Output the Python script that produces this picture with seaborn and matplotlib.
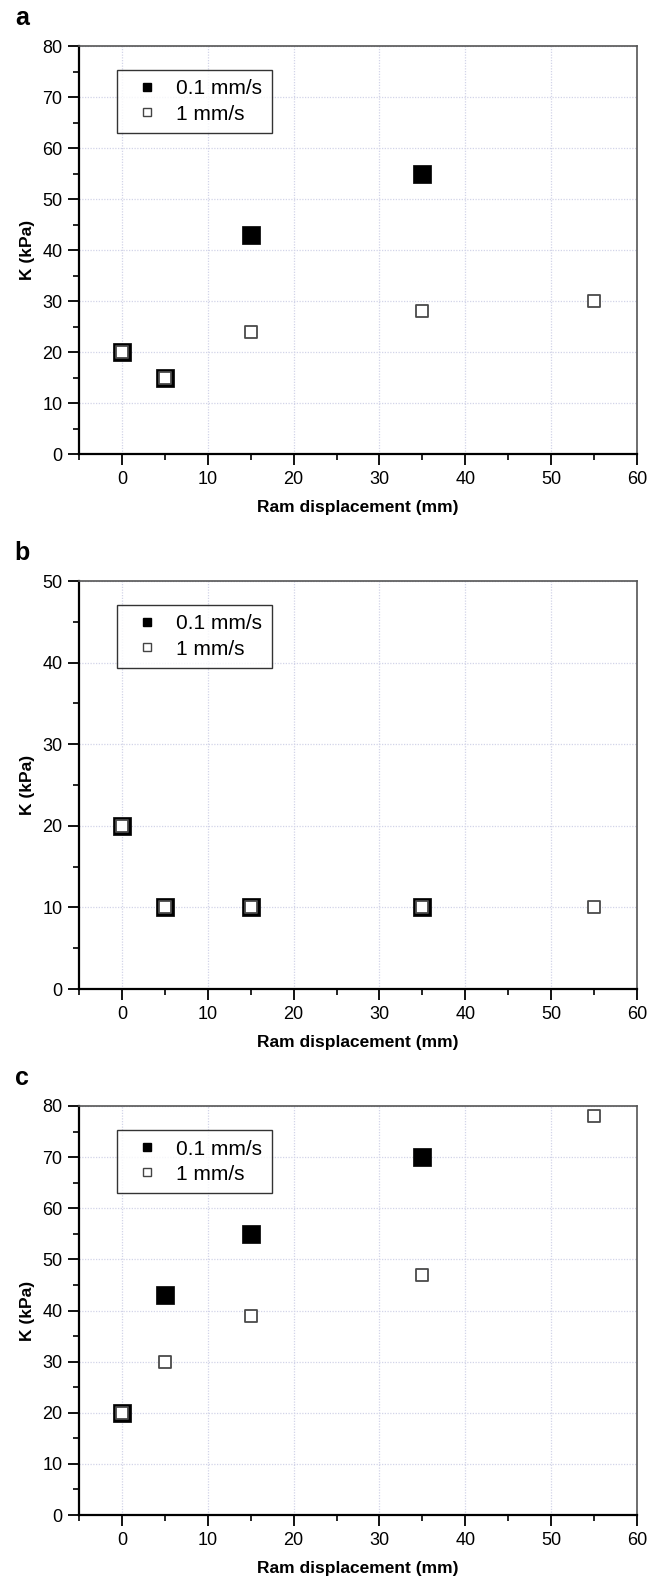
import matplotlib
matplotlib.use("Agg")
import matplotlib.pyplot as plt
from matplotlib.ticker import MultipleLocator
from matplotlib.lines import Line2D
import seaborn as sns
import pandas as pd

sns.set_theme(style="white")
plt.rcParams['font.family'] = ['Liberation Sans', 'DejaVu Sans']
plt.rcParams['text.color'] = 'black'
plt.rcParams['axes.labelcolor'] = 'black'
plt.rcParams['xtick.color'] = 'black'
plt.rcParams['ytick.color'] = 'black'

# ---- data ----
panel_labels = ["a", "b", "c"]
x_slow = [0, 5, 15, 35]            # 0.1 mm/s
x_fast = [0, 5, 15, 35, 55]        # 1 mm/s
a_slow = [20, 15, 43, 55]
a_fast = [20, 15, 24, 28, 30]
b_slow = [20, 10, 10, 10]
b_fast = [20, 10, 10, 10, 10]
c_slow = [20, 43, 55, 70]
c_fast = [20, 30, 39, 47, 78]
y_max = [80, 50, 80]
series_names = ["0.1 mm/s", "1 mm/s"]
xlabel = "Ram displacement (mm)"
ylabel = "K (kPa)"

W, H = 650, 1583
fig = plt.figure(figsize=(W / 100, H / 100), dpi=100)

# pixel boxes: (left, right, top, bottom)
boxes = [(79, 637, 46, 454), (79, 637, 581, 989), (79, 637, 1106, 1515)]
slows = [a_slow, b_slow, c_slow]
fasts = [a_fast, b_fast, c_fast]

grid_col = "#d2d4e8"

for i, (l, r, t, b) in enumerate(boxes):
    ax = fig.add_axes([l / W, 1 - b / H, (r - l) / W, (b - t) / H])
    df_s = pd.DataFrame({"x": x_slow, "y": slows[i]})
    df_f = pd.DataFrame({"x": x_fast, "y": fasts[i]})
    sns.scatterplot(data=df_s, x="x", y="y", ax=ax, marker="s", s=150,
                    color="black", edgecolor="black", linewidth=0.5, zorder=3)
    sns.scatterplot(data=df_f, x="x", y="y", ax=ax, marker="s", s=85,
                    color="white", edgecolor="#4a4a4a", linewidth=1.3, zorder=4)
    ax.set_xlim(-5, 60)
    ax.set_ylim(0, y_max[i])
    ax.xaxis.set_major_locator(MultipleLocator(10))
    ax.xaxis.set_minor_locator(MultipleLocator(5))
    ax.yaxis.set_major_locator(MultipleLocator(10))
    ax.yaxis.set_minor_locator(MultipleLocator(5))
    ax.tick_params(axis="both", which="major", direction="out", length=8,
                   width=1.3, color="black", labelcolor="black", labelsize=13,
                   pad=4, bottom=True, left=True, top=False, right=False)
    ax.tick_params(axis="both", which="minor", direction="out", length=4,
                   width=1.2, color="black", bottom=True, left=True,
                   top=False, right=False)
    ax.grid(True, which="major", color=grid_col, linestyle=(0, (1, 1.2)),
            linewidth=0.9, zorder=0)
    ax.set_axisbelow(True)
    for side in ["left", "bottom"]:
        ax.spines[side].set_color("black")
        ax.spines[side].set_linewidth(1.6)
    for side in ["top", "right"]:
        ax.spines[side].set_color("#555555")
        ax.spines[side].set_linewidth(1.2)
    ax.set_xlabel(xlabel, fontsize=12.5, fontweight="bold", labelpad=9,
                  color="black")
    ax.set_ylabel(ylabel, fontsize=12.5, fontweight="bold", labelpad=5,
                  color="black")
    ax.text(-0.115, 1.04, panel_labels[i], transform=ax.transAxes,
            fontsize=18, fontweight="bold", ha="left", va="bottom",
            color="black")
    handles = [
        Line2D([], [], marker="s", linestyle="none", markersize=6,
               markerfacecolor="black", markeredgecolor="black"),
        Line2D([], [], marker="s", linestyle="none", markersize=6,
               markerfacecolor="white", markeredgecolor="#444444",
               markeredgewidth=1.0),
    ]
    leg = ax.legend(handles, series_names, loc="upper left",
                    bbox_to_anchor=(0.068, 0.941), borderaxespad=0,
                    fontsize=15, frameon=True, fancybox=False,
                    handlelength=2.0, handletextpad=0.4, borderpad=0.45,
                    labelspacing=0.3, edgecolor="black")
    leg.get_frame().set_linewidth(1.0)
    for txt in leg.get_texts():
        txt.set_color("black")

fig.savefig("out.png", dpi=100)
